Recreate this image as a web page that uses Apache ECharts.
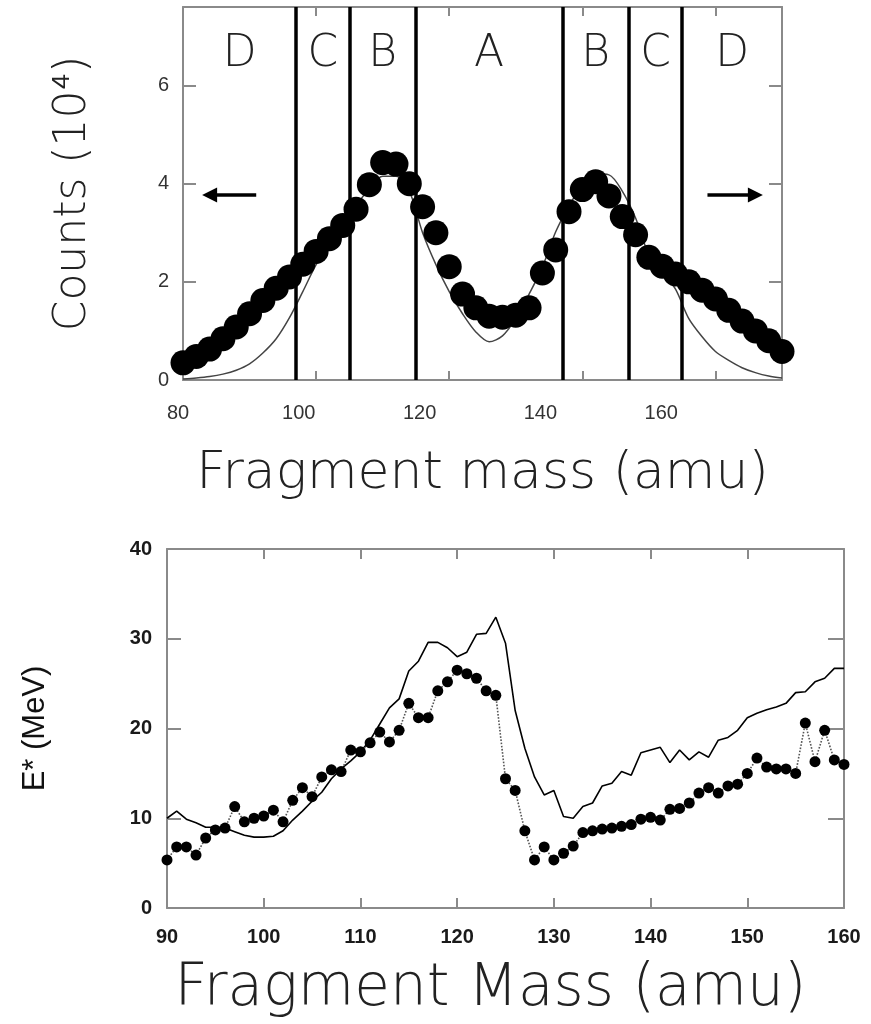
<!DOCTYPE html>
<html>
<head>
<meta charset="utf-8">
<script src="https://cdn.jsdelivr.net/npm/echarts/dist/echarts.min.js"></script>
<style>html,body{margin:0;padding:0;background:#fff}#c{width:871px;height:1024px}</style>
</head>
<body>
<div id="c"></div>
<script>
// ---------- Top panel data ----------
const topMass = [80,82,84,86,88,90,92,94,96,98,100,102,104,106,108,110,112,114,116,118,120,122,124,126,128,130,132,134,136,138,140,142,144,146,148,150,152,154,156,158,160,162,164,166,168,170];
const topCounts = [0.35,0.48,0.63,0.84,1.08,1.35,1.62,1.87,2.10,2.36,2.62,2.88,3.15,3.48,3.98,4.43,4.40,4.00,3.53,3.00,2.31,1.75,1.47,1.30,1.28,1.32,1.47,2.18,2.65,3.43,3.88,4.04,3.75,3.33,2.96,2.50,2.32,2.16,2.00,1.83,1.65,1.42,1.20,1.00,0.80,0.58];
const topFit = [0.02,0.04,0.07,0.12,0.20,0.33,0.55,0.84,1.27,1.80,2.35,2.78,3.17,3.55,3.90,4.15,4.15,3.85,3.00,2.35,1.80,1.35,0.98,0.78,0.90,1.25,1.75,2.30,3.02,3.55,3.97,4.20,4.18,3.85,3.30,2.55,2.20,1.85,1.25,0.88,0.58,0.40,0.25,0.15,0.08,0.04];
const regionEdges = [80,97,105,115,137,147,155,170];
const regionNames = ['D','C','B','A','B','C','D'];
const arrowLeft = [91, 84];
const arrowRight = [158.8, 166];
const arrowLevel = 3.77;
const topXTicks = [80,100,120,140,160];
const topYTicks = [0,2,4,6];

// ---------- Bottom panel data ----------
const botMass = [90,91,92,93,94,95,96,97,98,99,100,101,102,103,104,105,106,107,108,109,110,111,112,113,114,115,116,117,118,119,120,121,122,123,124,125,126,127,128,129,130,131,132,133,134,135,136,137,138,139,140,141,142,143,144,145,146,147,148,149,150,151,152,153,154,155,156,157,158,159,160];
const botDots = [5.35,6.8,6.8,5.9,7.8,8.7,8.9,11.3,9.6,10.0,10.25,10.9,9.6,12.0,13.4,12.4,14.6,15.4,15.2,17.6,17.4,18.4,19.6,18.5,19.8,22.8,21.2,21.2,24.2,25.2,26.5,26.1,25.6,24.2,23.7,14.4,13.1,8.6,5.35,6.8,5.35,6.1,6.9,8.4,8.6,8.8,8.9,9.1,9.3,9.9,10.1,9.8,11.0,11.1,11.7,12.8,13.4,12.8,13.6,13.8,15.0,16.7,15.7,15.5,15.5,15.0,20.6,16.3,19.8,16.5,16.0];
const botLine = [10.0,10.8,9.9,9.5,9.0,9.0,8.9,8.5,8.1,7.9,7.9,8.0,8.6,9.8,10.8,11.9,12.9,14.4,15.5,16.4,17.4,18.7,20.5,22.3,23.3,26.4,27.5,29.6,29.6,29.0,28.0,28.5,30.5,30.6,32.4,29.5,22.0,17.8,14.6,12.6,13.1,10.2,10.0,11.3,11.7,13.6,13.9,15.2,14.8,17.3,17.6,17.9,16.2,17.6,16.5,17.4,16.8,18.7,19.0,19.8,21.2,21.7,22.1,22.4,22.8,24.0,24.1,25.2,25.6,26.7,26.7];
const botXTicks = [90,100,110,120,130,140,150,160];
const botYTicks = [0,10,20,30,40];

// ---------- styles ----------
const AX = '#8a8a8a';
const thin = 'DejaVu Sans';
const helv = 'Liberation Sans';

function boxAxis(extra) {
  return Object.assign({
    type: 'value',
    axisLine: { show: true, onZero: false, lineStyle: { color: AX, width: 2 } },
    axisTick: { show: true, inside: true, length: 10, lineStyle: { color: AX, width: 2 } },
    axisLabel: { show: false },
    splitLine: { show: false }
  }, extra);
}

const regionAreas = regionNames.map((n, i) => [{ name: n, xAxis: regionEdges[i] }, { xAxis: regionEdges[i + 1] }]);
const regionLines = regionEdges.slice(1, -1).map(v => ({ xAxis: v }));

const option = {
  animation: false,
  backgroundColor: '#fff',
  grid: [
    { left: 183, top: 7, width: 599, height: 373 },
    { left: 167, top: 549, width: 677, height: 359 },
    { left: 178, top: 7, width: 604, height: 373 }
  ],
  xAxis: [
    boxAxis({ gridIndex: 0, min: 80, max: 170, interval: 20, position: 'bottom',
      axisTick: { show: true, inside: true, length: 9, lineStyle: { color: AX, width: 2 } },
      name: 'Fragment mass (amu)', nameLocation: 'middle', nameGap: 68,
      nameTextStyle: { fontFamily: thin, fontWeight: 200, fontSize: 52, color: '#222' } }),
    boxAxis({ gridIndex: 0, min: 80, max: 170, interval: 20, position: 'top',
      axisTick: { show: true, inside: true, length: 9, lineStyle: { color: AX, width: 2 } } }),
    { type: 'value', gridIndex: 1, min: 90, max: 160, interval: 10, position: 'bottom',
      axisLine: { show: true, onZero: false, lineStyle: { color: AX, width: 2 } },
      axisTick: { show: true, inside: true, length: 10, lineStyle: { color: AX, width: 2 } },
      axisLabel: { show: true, margin: 19, fontFamily: helv, fontWeight: 'bold', fontSize: 20, color: '#1a1a1a',
        formatter: v => botXTicks.includes(v) ? String(v) : '' },
      splitLine: { show: false },
      name: 'Fragment Mass (amu)', nameLocation: 'middle', nameGap: 53,
      nameTextStyle: { fontFamily: thin, fontWeight: 200, fontSize: 58, color: '#222', padding: [0, 30, 0, 0] } },
    boxAxis({ gridIndex: 1, min: 90, max: 160, interval: 10, position: 'top' }),
    { type: 'value', gridIndex: 2, min: 80, max: 180, interval: 20, position: 'bottom',
      axisLine: { show: false }, axisTick: { show: false }, splitLine: { show: false },
      axisLabel: { show: true, margin: 23, fontFamily: helv, fontSize: 20, color: '#333',
        formatter: v => topXTicks.includes(v) ? String(v) : '' } }
  ],
  yAxis: [
    { type: 'value', gridIndex: 0, min: 0, max: 7.6, interval: 2, position: 'left',
      axisLine: { show: true, onZero: false, lineStyle: { color: AX, width: 2 } },
      axisTick: { show: true, inside: true, length: 13, lineStyle: { color: AX, width: 2 } },
      axisLabel: { show: true, margin: 14, fontFamily: helv, fontSize: 20, color: '#333',
        formatter: v => topYTicks.includes(v) ? String(v) : '' },
      splitLine: { show: false },
      name: 'Counts (10⁴)', nameLocation: 'middle', nameRotate: 90, nameGap: 87,
      nameTextStyle: { fontFamily: thin, fontWeight: 200, fontSize: 44, color: '#222' } },
    boxAxis({ gridIndex: 0, min: 0, max: 7.6, interval: 2, position: 'right',
      axisTick: { show: true, inside: true, length: 13, lineStyle: { color: AX, width: 2 } } }),
    { type: 'value', gridIndex: 1, min: 0, max: 40, interval: 10, position: 'left',
      axisLine: { show: true, onZero: false, lineStyle: { color: AX, width: 2 } },
      axisTick: { show: true, inside: true, length: 14, lineStyle: { color: AX, width: 2 } },
      axisLabel: { show: true, margin: 15, fontFamily: helv, fontWeight: 'bold', fontSize: 20, color: '#1a1a1a',
        formatter: v => botYTicks.includes(v) ? String(v) : '' },
      splitLine: { show: false },
      name: 'E* (MeV)', nameLocation: 'middle', nameRotate: 90, nameGap: 116,
      nameTextStyle: { fontFamily: helv, fontSize: 31, color: '#111' } },
    boxAxis({ gridIndex: 1, min: 0, max: 40, interval: 10, position: 'right',
      axisTick: { show: true, inside: true, length: 16, lineStyle: { color: AX, width: 2 } } }),
    { type: 'value', gridIndex: 2, min: 0, max: 1, show: false }
  ],
  series: [
    { type: 'line', xAxisIndex: 0, yAxisIndex: 0, z: 2, smooth: 0.3, symbol: 'none',
      data: topMass.map((m, i) => [m, topFit[i]]),
      lineStyle: { color: '#444', width: 1.5 },
      markLine: { silent: true, symbol: ['none', 'triangle'], symbolSize: [15, 15],
        lineStyle: { color: '#000', width: 3.5, type: 'solid' }, label: { show: false },
        data: [
          [{ coord: [arrowLeft[0], arrowLevel] }, { coord: [arrowLeft[1], arrowLevel] }],
          [{ coord: [arrowRight[0], arrowLevel] }, { coord: [arrowRight[1], arrowLevel] }]
        ] } },
    { type: 'scatter', xAxisIndex: 0, yAxisIndex: 0, z: 3, symbol: 'circle', symbolSize: 25,
      data: topMass.map((m, i) => [m, topCounts[i]]),
      itemStyle: { color: '#000', opacity: 1 },
      markLine: { silent: true, symbol: 'none', label: { show: false },
        lineStyle: { color: '#000', width: 3.5, type: 'solid' }, data: regionLines },
      markArea: { silent: true, itemStyle: { color: 'rgba(0,0,0,0)' },
        label: { show: true, position: 'insideTop', distance: 26, fontFamily: thin, fontWeight: 200, fontSize: 44, color: '#222' },
        data: regionAreas } },
    { type: 'line', xAxisIndex: 2, yAxisIndex: 2, z: 3, symbol: 'none',
      data: botMass.map((m, i) => [m, botLine[i]]),
      lineStyle: { color: '#000', width: 1.6 } },
    { type: 'line', xAxisIndex: 2, yAxisIndex: 2, z: 4, symbol: 'circle', symbolSize: 11, showSymbol: true,
      data: botMass.map((m, i) => [m, botDots[i]]),
      itemStyle: { color: '#000', opacity: 1 },
      lineStyle: { color: '#555', width: 1.6, type: 'dotted' } }
  ]
};

const chart = echarts.init(document.getElementById('c'), null, { renderer: 'canvas' });
chart.setOption(option);
</script>
</body>
</html>
